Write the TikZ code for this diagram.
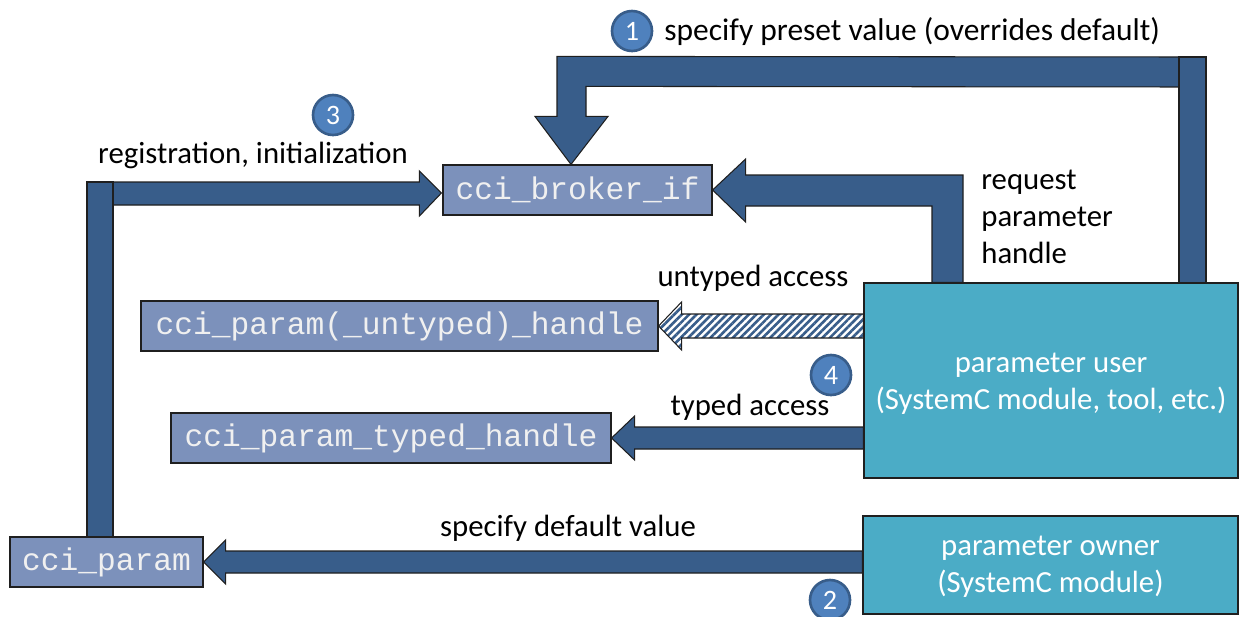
\documentclass[tikz,border=0pt]{standalone}
\usepackage{fontspec}
\setmainfont{Carlito}
\newfontfamily\codefont{Liberation Mono}
\usetikzlibrary{calc,patterns.meta}
\definecolor{arrowblue}{HTML}{385D8A}
\definecolor{handlefill}{HTML}{7C91BB}
\definecolor{modfill}{HTML}{4BACC6}
\definecolor{circfill}{HTML}{4F81BD}
\definecolor{outl}{HTML}{1F1F1F}
\begin{document}
\begin{tikzpicture}[x=0.02cm,y=-0.02cm,
  lbl/.style={font=\fontsize{17.5}{21}\selectfont, inner sep=0pt},
  handlebox/.style={draw=outl, line width=0.7pt, fill=handlefill, text=white!94!black, font=\codefont\fontsize{17.8}{20}\selectfont, minimum height=1cm, inner sep=0pt},
  modbox/.style={draw=outl, line width=0.7pt, fill=modfill, text=white, font=\fontsize{17.5}{21}\selectfont, align=center, inner sep=0pt},
  stepnum/.style={circle, fill=circfill, draw=arrowblue, line width=1.5pt, minimum size=0.8cm, inner sep=0pt, text=white, font=\fontsize{16}{16}\selectfont},
  blockarrow/.style={fill=arrowblue, draw=outl, line width=0.6pt, line join=miter},
  hatcharrow/.style={draw=outl, line width=0.6pt, pattern={Lines[angle=45,distance=3pt,line width=1.5pt]}, pattern color=arrowblue},
]
\useasboundingbox (0,0) rectangle (1239,616);

% boxes
\node[handlebox, minimum width=5.38cm] (broker) at (577.5,190) {cci\_broker\_if};
\node[handlebox, minimum width=10.34cm] (untyped) at (399.5,326) {cci\_param(\_untyped)\_handle};
\node[handlebox, minimum width=8.8cm] (typed) at (391,438) {cci\_param\_typed\_handle};
\node[handlebox, minimum width=3.86cm] (param) at (106.5,562) {cci\_param};
\node[modbox, minimum width=7.48cm, minimum height=3.9cm] (user) at (1051,380.5) {};
\node[lbl, text=white, align=center] (usertext) at (1051,384) {parameter user\\(SystemC module, tool, etc.)};
\node[modbox, minimum width=7.5cm, minimum height=1.96cm] (owner) at (1050.5,565) {};
\node[lbl, text=white, align=center] (ownertext) at (1050.5,567) {parameter owner\\(SystemC module)};

% 1: preset value from user to broker
\coordinate (ptip) at ($(broker.north)+(-6.5,0)$);
\draw[blockarrow] (ptip) -- ++(37,-48) -- ++(-22,0) -- ++(0,-30) -- (1192,87) -- (1192,57)
  -- ($(ptip)+(-14,-108)$) -- ++(0,60) -- ++(-22,0) -- cycle;
\draw[blockarrow] (1179,57) rectangle (1206,0 |- user.north);

% request parameter handle: user to broker
\draw[blockarrow] (broker.east) -- ++(33,-31) -- ++(0,16) -- (963,175) -- (963,0 |- user.north)
  -- (932,0 |- user.north) -- (932,206) -- ($(broker.east)+(33,16)$) -- ++(0,16) -- cycle;

% 3: registration from cci_param to broker
\coordinate (rtip) at ($(broker.west)+(-1,3)$);
\draw[blockarrow] (rtip) -- ++(-22,-22) -- ++(0,11) -- (113,182) -- (113,205)
  -- ($(rtip)+(-22,12)$) -- ++(0,11) -- cycle;
\draw[blockarrow] (87,182) rectangle (113,0 |- param.north);

% untyped access (hatched)
\draw[hatcharrow] (untyped.east) -- ++(23,-24) -- ++(0,12) -- ($(user.west |- untyped.east)+(0,-12)$)
  -- ++(0,24) -- ($(untyped.east)+(23,12)$) -- ++(0,12) -- cycle;

% typed access
\draw[blockarrow] (typed.east) -- ++(23,-22) -- ++(0,11) -- ($(user.west |- typed.east)+(0,-11)$)
  -- ++(0,22) -- ($(typed.east)+(23,11)$) -- ++(0,11) -- cycle;

% 2: default value from owner to cci_param
\draw[blockarrow] (param.east) -- ++(22,-22) -- ++(0,11) -- ($(owner.west |- param.east)+(0,-11)$)
  -- ++(0,22) -- ($(param.east)+(22,11)$) -- ++(0,11) -- cycle;

% labels and step numbers
\node[stepnum] (n1) at (632,31) {1};
\node[lbl, anchor=west, font=\fontsize{17.9}{21}\selectfont] (t1) at (664,32) {specify preset value (overrides default)};
\node[stepnum] (n3) at (333,115) {3};
\node[lbl] (t3) at (253,155) {registration, initialization};
\node[lbl, anchor=west, align=left] (treq) at (981,217) {request\\parameter\\handle};
\node[lbl] (tun) at (753,278) {untyped access};
\node[stepnum] (n4) at (831,375) {4};
\node[lbl] (tty) at (750,407) {typed access};
\node[lbl] (tdef) at (568,528) {specify default value};
\node[stepnum] (n2) at (830,600) {2};
\end{tikzpicture}
\end{document}
